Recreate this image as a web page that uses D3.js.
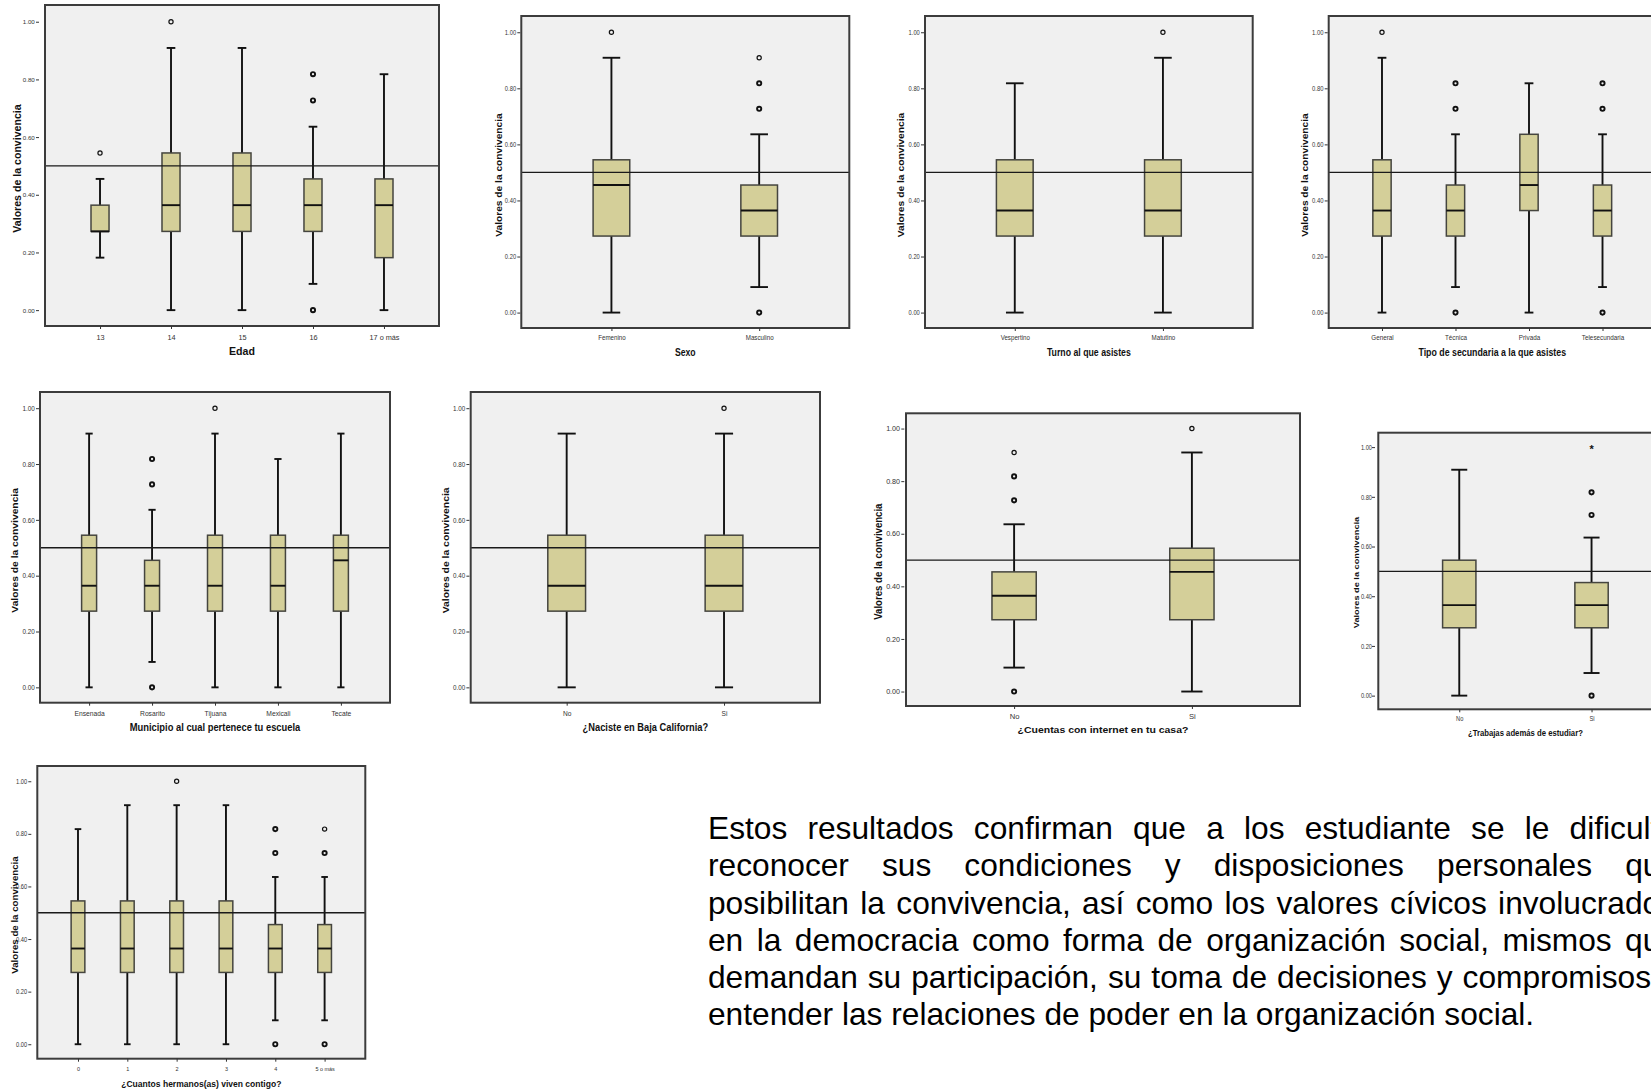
<!DOCTYPE html>
<html><head><meta charset="utf-8">
<script src="https://cdn.jsdelivr.net/npm/d3@7/dist/d3.min.js"></script>
<style>
body{margin:0;background:#fff;}
svg{display:block;}
text{font-family:"Liberation Sans",Arial,Helvetica,sans-serif;}
</style>
</head><body>
<svg id="c" width="1651" height="1089"></svg>
<script>
// ---------------- DATA ----------------
const yLabel = "Valores de la convivencia";
const yTicks = [0, 0.2, 0.4, 0.6, 0.8, 1.0];
// each box: [lower whisker, Q1, median, Q3, upper whisker]; outliers: [value, multiplicity]

const edadTitle = "Edad";
const edadCats = ["13", "14", "15", "16", "17 o más"];
const edadBoxes = [[0.182,0.273,0.273,0.364,0.455],[0,0.273,0.364,0.545,0.909],[0,0.273,0.364,0.545,0.909],[0.091,0.273,0.364,0.455,0.636],[0,0.182,0.364,0.455,0.818]];
const edadOutliers = [[[0.545,1]],[[1,1]],[],[[0,2],[0.727,2],[0.818,2]],[]];

const sexoTitle = "Sexo";
const sexoCats = ["Femenino", "Masculino"];
const sexoBoxes = [[0,0.273,0.455,0.545,0.909],[0.091,0.273,0.364,0.455,0.636]];
const sexoOutliers = [[[1,1]],[[0,2],[0.727,2],[0.818,2],[0.909,1]]];

const turnoTitle = "Turno al que asistes";
const turnoCats = ["Vespertino", "Matutino"];
const turnoBoxes = [[0,0.273,0.364,0.545,0.818],[0,0.273,0.364,0.545,0.909]];
const turnoOutliers = [[],[[1,1]]];

const tipoTitle = "Tipo de secundaria a la que asistes";
const tipoCats = ["General", "Técnica", "Privada", "Telesecundaria"];
const tipoBoxes = [[0,0.273,0.364,0.545,0.909],[0.091,0.273,0.364,0.455,0.636],[0,0.364,0.455,0.636,0.818],[0.091,0.273,0.364,0.455,0.636]];
const tipoOutliers = [[[1,1]],[[0,2],[0.727,2],[0.818,2]],[],[[0,2],[0.727,2],[0.818,2]]];

const muniTitle = "Municipio al cual pertenece tu escuela";
const muniCats = ["Ensenada", "Rosarito", "Tijuana", "Mexicali", "Tecate"];
const muniBoxes = [[0,0.273,0.364,0.545,0.909],[0.091,0.273,0.364,0.455,0.636],[0,0.273,0.364,0.545,0.909],[0,0.273,0.364,0.545,0.818],[0,0.273,0.455,0.545,0.909]];
const muniOutliers = [[],[[0,2],[0.727,2],[0.818,2]],[[1,1]],[],[]];

const nacTitle = "¿Naciste en Baja California?";
const nacCats = ["No", "Si"];
const nacBoxes = [[0,0.273,0.364,0.545,0.909],[0,0.273,0.364,0.545,0.909]];
const nacOutliers = [[],[[1,1]]];

const netTitle = "¿Cuentas con internet en tu casa?";
const netCats = ["No", "Si"];
const netBoxes = [[0.091,0.273,0.364,0.455,0.636],[0,0.273,0.455,0.545,0.909]];
const netOutliers = [[[0,2],[0.727,2],[0.818,2],[0.909,1]],[[1,1]]];

const trabTitle = "¿Trabajas además de estudiar?";
const trabCats = ["No", "Si"];
const trabBoxes = [[0,0.273,0.364,0.545,0.909],[0.091,0.273,0.364,0.455,0.636]];
const trabOutliers = [[],[[0,2],[0.727,2],[0.818,2]]];
const trabExtremes = [[],[1]];

const hermTitle = "¿Cuantos hermanos(as) viven contigo?";
const hermCats = ["0", "1", "2", "3", "4", "5 o más"];
const hermBoxes = [[0,0.273,0.364,0.545,0.818],[0,0.273,0.364,0.545,0.909],[0,0.273,0.364,0.545,0.909],[0,0.273,0.364,0.545,0.909],[0.091,0.273,0.364,0.455,0.636],[0.091,0.273,0.364,0.455,0.636]];
const hermOutliers = [[],[],[[1,1]],[],[[0,2],[0.727,2],[0.818,2]],[[0,2],[0.727,2],[0.818,1]]];

const paragraphLines = [
  "Estos resultados confirman que a los estudiante se le dificulta",
  "reconocer sus condiciones y disposiciones personales que",
  "posibilitan la convivencia, así como los valores cívicos involucrados",
  "en la democracia como forma de organización social, mismos que",
  "demandan su participación, su toma de decisiones y compromisos para",
  "entender las relaciones de poder en la organización social."
];

// ---------------- LAYOUT ----------------
const panels = [
  {title: edadTitle, cats: edadCats, boxes: edadBoxes, outliers: edadOutliers},
  {title: sexoTitle, cats: sexoCats, boxes: sexoBoxes, outliers: sexoOutliers},
  {title: turnoTitle, cats: turnoCats, boxes: turnoBoxes, outliers: turnoOutliers},
  {title: tipoTitle, cats: tipoCats, boxes: tipoBoxes, outliers: tipoOutliers},
  {title: muniTitle, cats: muniCats, boxes: muniBoxes, outliers: muniOutliers},
  {title: nacTitle, cats: nacCats, boxes: nacBoxes, outliers: nacOutliers},
  {title: netTitle, cats: netCats, boxes: netBoxes, outliers: netOutliers},
  {title: trabTitle, cats: trabCats, boxes: trabBoxes, outliers: trabOutliers, extremes: trabExtremes},
  {title: hermTitle, cats: hermCats, boxes: hermBoxes, outliers: hermOutliers}
];

const layouts = [
  {L:45, T:5, R:439, B:326, pad:0.775, bf:0.254, gap:6, tp:4.2, ylx:20.5, yldy:3, catY:13.5, titleY:29, tf:6.2, cf:7.3, hf:10.6, sx:1.0},
  {L:521.3, T:16, R:849.3, B:328, pad:0.61, bf:0.248, gap:1, tp:4.2, ylx:501.5, yldy:3, catY:12.5, titleY:27.5, tf:6.8, cf:7.3, hf:10.2, sx:0.85},
  {L:925, T:16, R:1252.7, B:328, pad:0.606, bf:0.248, gap:1, tp:4.2, ylx:904.3, yldy:3, catY:12.5, titleY:27.5, tf:6.8, cf:7.3, hf:10.3, sx:0.85},
  {L:1328.7, T:16, R:1655.8, B:328, pad:0.725, bf:0.249, gap:1, tp:4.2, ylx:1308.3, yldy:3, catY:12.5, titleY:27.5, tf:6.8, cf:7.3, hf:10.2, sx:0.865},
  {L:40, T:392, R:390, B:702.7, pad:0.78, bf:0.238, gap:1, tp:4.2, ylx:18.3, yldy:3, catY:13, titleY:28.5, tf:7.0, cf:7.4, hf:10.3, sx:0.91},
  {L:470.7, T:392, R:820, B:702.7, pad:0.61, bf:0.24, gap:1.3, tp:4.2, ylx:449, yldy:3, catY:13, titleY:28.5, tf:7.0, cf:7.4, hf:10.4, sx:0.895},
  {L:906, T:413.3, R:1300, B:706, pad:0.608, bf:0.249, gap:1.7, tp:4.2, ylx:881.7, yldy:2, catY:13, titleY:27, tf:6.6, cf:7.0, hf:9.6, sx:1.09},
  {L:1378.3, T:432.7, R:1672.5, B:709.3, pad:0.612, bf:0.252, gap:3.3, tp:3.0, ylx:1358.5, yldy:1.5, catY:12, titleY:26.7, tf:6.8, cf:6.8, hf:9.2, sx:0.84},
  {L:37.3, T:766, R:365.3, B:1058.7, pad:0.825, bf:0.278, gap:6, tp:4.2, ylx:17.7, yldy:2.7, catY:12, titleY:28, tf:6.5, cf:6.2, hf:9.7, sx:0.88}
];

const para = {x:708, y0:839.3, lh:37.1, size:31.7,
  ends:[1677, 1678, 1676, 1678, null, null], // justified end of line
  fit:[null, null, null, null, {words:9, end:1651}, null]}; // fit a prefix of words to an end

// ---------------- DRAW ----------------
const svg = d3.select("#c");
svg.append("rect").attr("width",1651).attr("height",1089).attr("fill","#fff");

const COL = {bg:"#f0f0f0", box:"#d4cf99", boxStroke:"#45453f", frame:"#3c3c3c", ink:"#111"};

function hText(g, x, y, s, size, weight, sx, anchor) {
  return g.append("text")
    .attr("transform", `translate(${x},${y}) scale(${sx},1)`)
    .attr("text-anchor", anchor || "middle")
    .attr("font-size", size).attr("font-weight", weight)
    .attr("fill", "#111").text(s);
}

function drawPanel(p, lay) {
  const g = svg.append("g");
  const y = d3.scaleLinear().domain([-0.055, 1.058]).range([lay.B, lay.T]);
  const x = d3.scalePoint().domain(p.cats).range([lay.L, lay.R]).padding(lay.pad);
  const bw = x.step() * lay.bf;
  const cw = bw * 0.24;

  g.append("rect").attr("x", lay.L).attr("y", lay.T)
    .attr("width", lay.R - lay.L).attr("height", lay.B - lay.T).attr("fill", COL.bg);

  p.cats.forEach((c, i) => {
    const [lo, q1, md, q3, hi] = p.boxes[i];
    const cx = x(c);
    const wl = g.append("g").attr("stroke", COL.ink).attr("stroke-width", 1.9);
    wl.append("line").attr("x1", cx).attr("x2", cx).attr("y1", y(hi)).attr("y2", y(q3));
    wl.append("line").attr("x1", cx).attr("x2", cx).attr("y1", y(q1)).attr("y2", y(lo));
    wl.append("line").attr("x1", cx - cw).attr("x2", cx + cw).attr("y1", y(hi)).attr("y2", y(hi));
    wl.append("line").attr("x1", cx - cw).attr("x2", cx + cw).attr("y1", y(lo)).attr("y2", y(lo));
    g.append("rect").attr("x", cx - bw / 2).attr("y", y(q3))
      .attr("width", bw).attr("height", y(q1) - y(q3))
      .attr("fill", COL.box).attr("stroke", COL.boxStroke).attr("stroke-width", 1.5);
    g.append("line").attr("x1", cx - bw / 2).attr("x2", cx + bw / 2)
      .attr("y1", y(md)).attr("y2", y(md)).attr("stroke", COL.ink).attr("stroke-width", 1.9);
    (p.outliers[i] || []).forEach(([v, n]) => {
      g.append("circle").attr("cx", cx).attr("cy", y(v)).attr("r", 2.1)
        .attr("fill", "none").attr("stroke", COL.ink).attr("stroke-width", n > 1 ? 1.9 : 1.2);
    });
    if (p.extremes) (p.extremes[i] || []).forEach(v => {
      g.append("text").attr("x", cx).attr("y", y(v) + 6.3).attr("text-anchor", "middle")
        .attr("font-size", 11).attr("font-weight", "bold").attr("fill", COL.ink).text("*");
    });
  });

  // reference line at 0.50
  g.append("line").attr("x1", lay.L).attr("x2", lay.R).attr("y1", y(0.5)).attr("y2", y(0.5))
    .attr("stroke", "#1a1a1a").attr("stroke-width", 1.3);

  // frame
  g.append("rect").attr("x", lay.L).attr("y", lay.T)
    .attr("width", lay.R - lay.L).attr("height", lay.B - lay.T)
    .attr("fill", "none").attr("stroke", COL.frame).attr("stroke-width", 2);

  // y axis
  const gy = g.append("g").attr("transform", `translate(${lay.L - lay.gap},0)`)
    .call(d3.axisLeft(y).tickValues(yTicks).tickFormat(d3.format(".2f")).tickSize(3).tickPadding(1.2));
  gy.attr("font-family", null).attr("font-size", lay.tf);
  gy.select(".domain").remove();
  gy.selectAll(".tick line").attr("stroke", "#333").attr("stroke-width", 1);
  gy.selectAll(".tick text").attr("fill", "#333")
    .attr("x", -lay.tp / lay.sx).attr("transform", `scale(${lay.sx},1)`);

  // x axis
  const gx = g.append("g").attr("transform", `translate(0,${lay.B})`)
    .call(d3.axisBottom(x).tickSize(3));
  gx.attr("font-family", null).attr("font-size", lay.cf);
  gx.select(".domain").remove();
  gx.selectAll(".tick line").attr("stroke", "#333").attr("stroke-width", 1);
  gx.selectAll(".tick text").attr("fill", "#333").attr("y", lay.catY).attr("dy", 0)
    .attr("transform", `scale(${lay.sx},1)`);

  // titles
  hText(g, (lay.L + lay.R) / 2, lay.B + lay.titleY, p.title, lay.hf, "bold", lay.sx, "middle");
  g.append("text")
    .attr("transform", `translate(${lay.ylx},${(lay.T + lay.B) / 2 + lay.yldy}) rotate(-90) scale(1,${lay.sx})`)
    .attr("text-anchor", "middle").attr("font-size", lay.hf).attr("font-weight", "bold")
    .attr("fill", "#111").text(yLabel);
}

panels.forEach((p, i) => drawPanel(p, layouts[i]));

// paragraph (justified lines)
const pg = svg.append("g").attr("font-size", para.size).attr("fill", "#000");
paragraphLines.forEach((line, i) => {
  const t = pg.append("text").attr("x", para.x).attr("y", para.y0 + i * para.lh).text(line);
  const spaces = (line.match(/ /g) || []).length;
  if (para.ends[i] != null && spaces > 0) {
    const w = t.node().getComputedTextLength();
    const ws = (para.ends[i] - para.x - w) / spaces;
    t.attr("word-spacing", ws);
  } else if (para.fit[i]) {
    const words = line.split(" ");
    const prefix = words.slice(0, para.fit[i].words).join(" ");
    const tmp = pg.append("text").attr("x", para.x).attr("y", -100).text(prefix);
    const w = tmp.node().getComputedTextLength();
    tmp.remove();
    const n = para.fit[i].words - 1;
    t.attr("word-spacing", (para.fit[i].end - para.x - w) / n);
  }
});
</script>
</body></html>
